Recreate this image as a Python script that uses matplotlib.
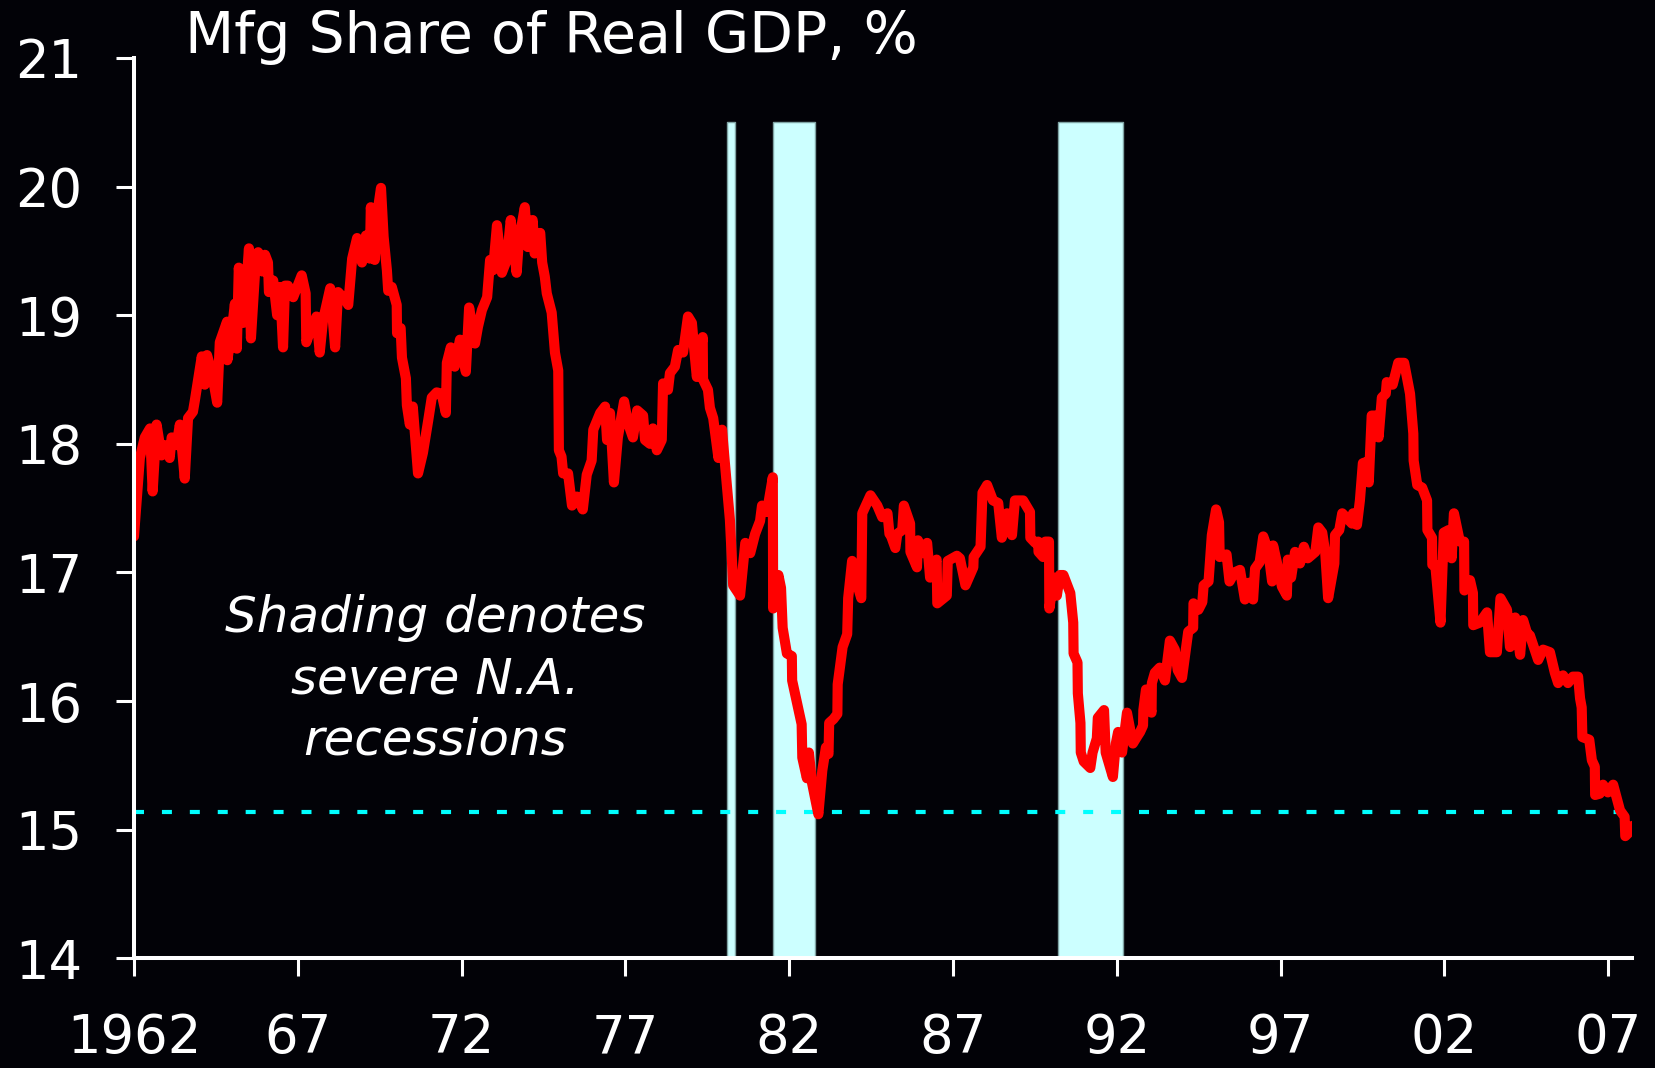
import matplotlib
matplotlib.use('Agg')
import matplotlib.pyplot as plt

# Mfg share of real GDP (%)
years = [
    1962.00, 1962.18, 1962.33, 1962.49, 1962.57, 1962.69, 1962.84, 1962.94, 1963.09, 1963.15,
    1963.30, 1963.40, 1963.55, 1963.65, 1963.80, 1963.86, 1964.07, 1964.16, 1964.23, 1964.38,
    1964.54, 1964.62, 1964.84, 1964.85, 1965.00, 1965.08, 1965.14, 1965.20, 1965.33, 1965.39,
    1965.51, 1965.57, 1965.70, 1965.79, 1965.92, 1966.00, 1966.09, 1966.12, 1966.25, 1966.37,
    1966.46, 1966.55, 1966.61, 1966.70, 1966.86, 1967.12, 1967.24, 1967.26, 1967.44, 1967.57,
    1967.67, 1967.77, 1967.99, 1968.14, 1968.23, 1968.45, 1968.54, 1968.66, 1968.81, 1968.96,
    1969.08, 1969.20, 1969.23, 1969.35, 1969.41, 1969.54, 1969.62, 1969.72, 1969.76, 1969.87,
    1970.02, 1970.03, 1970.14, 1970.18, 1970.30, 1970.33, 1970.42, 1970.51, 1970.67, 1970.82,
    1970.98, 1971.09, 1971.24, 1971.39, 1971.52, 1971.55, 1971.67, 1971.79, 1971.95, 1972.13,
    1972.23, 1972.41, 1972.50, 1972.62, 1972.78, 1972.87, 1972.96, 1973.08, 1973.23, 1973.38,
    1973.50, 1973.68, 1973.75, 1973.93, 1974.02, 1974.17, 1974.23, 1974.40, 1974.46, 1974.54,
    1974.60, 1974.75, 1974.85, 1974.95, 1974.97, 1975.05, 1975.10, 1975.25, 1975.37, 1975.52,
    1975.70, 1975.82, 1975.97, 1976.02, 1976.23, 1976.38, 1976.44, 1976.53, 1976.65, 1976.77,
    1976.96, 1977.08, 1977.23, 1977.36, 1977.54, 1977.60, 1977.75, 1977.84, 1977.96, 1978.11,
    1978.15, 1978.30, 1978.36, 1978.51, 1978.61, 1978.76, 1978.91, 1979.03, 1979.12, 1979.18,
    1979.36, 1979.37, 1979.52, 1979.58, 1979.68, 1979.84, 1979.95, 1980.03, 1980.19, 1980.29,
    1980.50, 1980.66, 1980.81, 1980.96, 1981.11, 1981.17, 1981.32, 1981.50, 1981.51, 1981.67,
    1981.75, 1981.80, 1981.93, 1982.08, 1982.09, 1982.38, 1982.40, 1982.54, 1982.60, 1982.70,
    1982.89, 1983.01, 1983.12, 1983.20, 1983.22, 1983.35, 1983.47, 1983.48, 1983.63, 1983.77,
    1983.80, 1983.92, 1984.07, 1984.20, 1984.23, 1984.48, 1984.69, 1984.84, 1985.00, 1985.06,
    1985.10, 1985.24, 1985.30, 1985.45, 1985.50, 1985.69, 1985.70, 1985.90, 1985.93, 1986.08,
    1986.21, 1986.30, 1986.50, 1986.52, 1986.81, 1986.84, 1987.12, 1987.21, 1987.38, 1987.62,
    1987.63, 1987.84, 1987.90, 1988.04, 1988.22, 1988.38, 1988.49, 1988.65, 1988.80, 1988.89,
    1989.14, 1989.35, 1989.36, 1989.51, 1989.60, 1989.61, 1989.75, 1989.82, 1989.93, 1989.94,
    1990.08, 1990.17, 1990.26, 1990.37, 1990.58, 1990.67, 1990.68, 1990.80, 1990.81, 1990.89,
    1990.90, 1990.99, 1991.19, 1991.26, 1991.39, 1991.42, 1991.61, 1991.66, 1991.88, 1991.97,
    1992.04, 1992.16, 1992.31, 1992.49, 1992.61, 1992.71, 1992.80, 1992.81, 1992.89, 1993.06,
    1993.07, 1993.16, 1993.31, 1993.47, 1993.62, 1993.77, 1993.86, 1993.99, 1994.18, 1994.33,
    1994.34, 1994.49, 1994.61, 1994.65, 1994.80, 1994.90, 1995.03, 1995.12, 1995.14, 1995.35,
    1995.44, 1995.59, 1995.76, 1995.91, 1996.03, 1996.16, 1996.22, 1996.36, 1996.47, 1996.62,
    1996.74, 1996.77, 1996.92, 1997.04, 1997.19, 1997.22, 1997.32, 1997.44, 1997.59, 1997.71,
    1997.83, 1998.06, 1998.15, 1998.27, 1998.36, 1998.45, 1998.64, 1998.66, 1998.79, 1998.88,
    1999.03, 1999.18, 1999.21, 1999.33, 1999.42, 1999.51, 1999.63, 1999.69, 1999.78, 1999.90,
    1999.99, 2000.09, 2000.21, 2000.24, 2000.42, 2000.59, 2000.77, 2000.95, 2001.05, 2001.06,
    2001.17, 2001.32, 2001.47, 2001.48, 2001.62, 2001.63, 2001.72, 2001.88, 2001.98, 2002.13,
    2002.22, 2002.29, 2002.47, 2002.60, 2002.61, 2002.78, 2002.87, 2002.88, 2003.08, 2003.30,
    2003.39, 2003.60, 2003.71, 2003.91, 2004.00, 2004.16, 2004.31, 2004.40, 2004.52, 2004.61,
    2004.86, 2005.01, 2005.22, 2005.37, 2005.47, 2005.62, 2005.77, 2005.92, 2006.08, 2006.14,
    2006.19, 2006.21, 2006.42, 2006.50, 2006.59, 2006.60, 2006.74, 2006.84, 2006.99, 2007.15,
    2007.36, 2007.50, 2007.52, 2007.60, 2007.74,
]
share = [
    17.28, 17.89, 18.05, 18.12, 17.63, 18.15, 17.91, 17.99, 17.89, 18.05,
    17.99, 18.15, 17.73, 18.20, 18.25, 18.34, 18.68, 18.46, 18.69, 18.55,
    18.32, 18.79, 18.95, 18.65, 18.91, 19.09, 18.74, 19.37, 18.94, 19.09,
    19.52, 18.82, 19.35, 19.49, 19.34, 19.47, 19.41, 19.18, 19.27, 19.00,
    19.22, 18.75, 19.23, 19.23, 19.14, 19.31, 19.17, 18.79, 18.92, 18.99,
    18.71, 18.96, 19.21, 18.75, 19.18, 19.12, 19.08, 19.44, 19.60, 19.41,
    19.62, 19.44, 19.84, 19.43, 19.76, 19.99, 19.61, 19.35, 19.19, 19.22,
    19.08, 18.86, 18.90, 18.67, 18.51, 18.30, 18.15, 18.29, 17.77, 17.93,
    18.18, 18.36, 18.40, 18.39, 18.24, 18.63, 18.75, 18.60, 18.81, 18.56,
    19.06, 18.78, 18.91, 19.04, 19.14, 19.43, 19.35, 19.70, 19.33, 19.43,
    19.74, 19.33, 19.58, 19.84, 19.53, 19.74, 19.48, 19.64, 19.41, 19.30,
    19.17, 19.02, 18.71, 18.57, 17.95, 17.90, 17.77, 17.77, 17.52, 17.59,
    17.49, 17.76, 17.87, 18.11, 18.24, 18.29, 18.03, 18.24, 17.70, 18.05,
    18.33, 18.16, 18.05, 18.26, 18.22, 18.03, 18.00, 18.12, 17.95, 18.03,
    18.47, 18.42, 18.55, 18.60, 18.73, 18.71, 18.99, 18.94, 18.68, 18.52,
    18.83, 18.50, 18.42, 18.28, 18.20, 17.89, 18.11, 17.87, 17.41, 16.90,
    16.82, 17.23, 17.15, 17.30, 17.40, 17.52, 17.47, 17.74, 16.72, 16.98,
    16.88, 16.57, 16.37, 16.35, 16.16, 15.82, 15.56, 15.40, 15.60, 15.36,
    15.12, 15.46, 15.64, 15.59, 15.83, 15.86, 15.90, 16.13, 16.42, 16.52,
    16.80, 17.09, 16.91, 16.80, 17.46, 17.60, 17.52, 17.43, 17.46, 17.30,
    17.29, 17.19, 17.30, 17.33, 17.52, 17.38, 17.16, 17.04, 17.25, 17.15,
    17.23, 16.96, 17.10, 16.76, 16.82, 17.09, 17.13, 17.11, 16.90, 17.04,
    17.12, 17.20, 17.62, 17.68, 17.56, 17.54, 17.27, 17.46, 17.29, 17.56,
    17.56, 17.47, 17.27, 17.23, 17.24, 17.16, 17.12, 17.24, 17.24, 16.72,
    16.96, 16.82, 16.98, 16.98, 16.84, 16.61, 16.37, 16.30, 16.06, 15.83,
    15.60, 15.53, 15.48, 15.60, 15.71, 15.87, 15.93, 15.60, 15.41, 15.67,
    15.76, 15.60, 15.91, 15.67, 15.72, 15.76, 15.81, 15.93, 16.09, 15.91,
    16.14, 16.22, 16.26, 16.16, 16.47, 16.40, 16.24, 16.18, 16.54, 16.57,
    16.76, 16.71, 16.77, 16.90, 16.93, 17.29, 17.49, 17.39, 17.12, 17.14,
    16.93, 17.00, 17.02, 16.79, 16.92, 16.79, 17.03, 17.08, 17.28, 17.17,
    16.93, 17.21, 17.04, 16.89, 16.82, 17.10, 16.96, 17.16, 17.07, 17.20,
    17.11, 17.16, 17.35, 17.31, 17.16, 16.80, 17.07, 17.29, 17.33, 17.46,
    17.42, 17.38, 17.46, 17.37, 17.56, 17.85, 17.86, 17.70, 18.22, 18.22,
    18.05, 18.36, 18.39, 18.48, 18.46, 18.63, 18.63, 18.39, 18.08, 17.87,
    17.68, 17.66, 17.56, 17.33, 17.27, 17.06, 17.06, 16.61, 17.31, 17.33,
    17.11, 17.46, 17.24, 17.24, 16.86, 16.94, 16.84, 16.59, 16.61, 16.69,
    16.38, 16.38, 16.80, 16.71, 16.42, 16.65, 16.36, 16.63, 16.53, 16.51,
    16.32, 16.40, 16.38, 16.22, 16.14, 16.20, 16.14, 16.19, 16.19, 16.02,
    15.95, 15.72, 15.70, 15.54, 15.49, 15.27, 15.28, 15.35, 15.29, 15.35,
    15.15, 15.10, 14.95, 14.97, 15.03,
]

# severe North American recessions (start, end)
recession_start = [1980.09, 1981.51, 1990.19]
recession_end = [1980.36, 1982.78, 1992.19]
shade_top = 20.5
ref_level = 15.14

tick_years = [1962, 1967, 1972, 1977, 1982, 1987, 1992, 1997, 2002, 2007]
tick_labels = ['1962', '67', '72', '77', '82', '87', '92', '97', '02', '07']
y_ticks = [14, 15, 16, 17, 18, 19, 20, 21]

bg = '#020207'
fig = plt.figure(figsize=(16.56, 10.68), dpi=100, facecolor=bg)
ax = fig.add_axes([0.0809, 0.1027, 0.9049, 0.8430], facecolor=bg)

for x0, x1 in zip(recession_start, recession_end):
    ax.fill_between([x0, x1], 14, shade_top, facecolor='#CCFFFF', edgecolor='#7FA3A3',
                    linewidth=1, zorder=1)

ax.axhline(ref_level, color='#00FFFF', linewidth=3, linestyle=(0, (2.4, 4.3)), zorder=2)
ax.plot(years, share, color='#FF0000', linewidth=7.3, solid_joinstyle='round',
        solid_capstyle='round', zorder=3)

ax.set_xlim(1962, 2007.74)
ax.set_ylim(14, 21)
ax.set_xticks(tick_years)
ax.set_xticklabels(tick_labels)
ax.set_yticks(y_ticks)

for side in ['top', 'right']:
    ax.spines[side].set_visible(False)
for side in ['left', 'bottom']:
    ax.spines[side].set_color('white')
    ax.spines[side].set_linewidth(2.9)
    ax.spines[side].set_zorder(4)

ax.tick_params(axis='both', colors='white', direction='out', length=13, width=2.2,
               labelsize=38, labelcolor='white')
ax.tick_params(axis='x', pad=26)
ax.tick_params(axis='y', pad=24)

fig.text(0.1117, 0.9504, 'Mfg Share of Real GDP, %', color='white', fontsize=41,
         ha='left', va='baseline')

ax.text(1971.19, 16.17, 'Shading denotes\nsevere N.A.\nrecessions', color='white',
        fontsize=36, fontstyle='italic', ha='center', va='center', linespacing=1.36)

fig.savefig('out.png', dpi=100, facecolor=bg)
